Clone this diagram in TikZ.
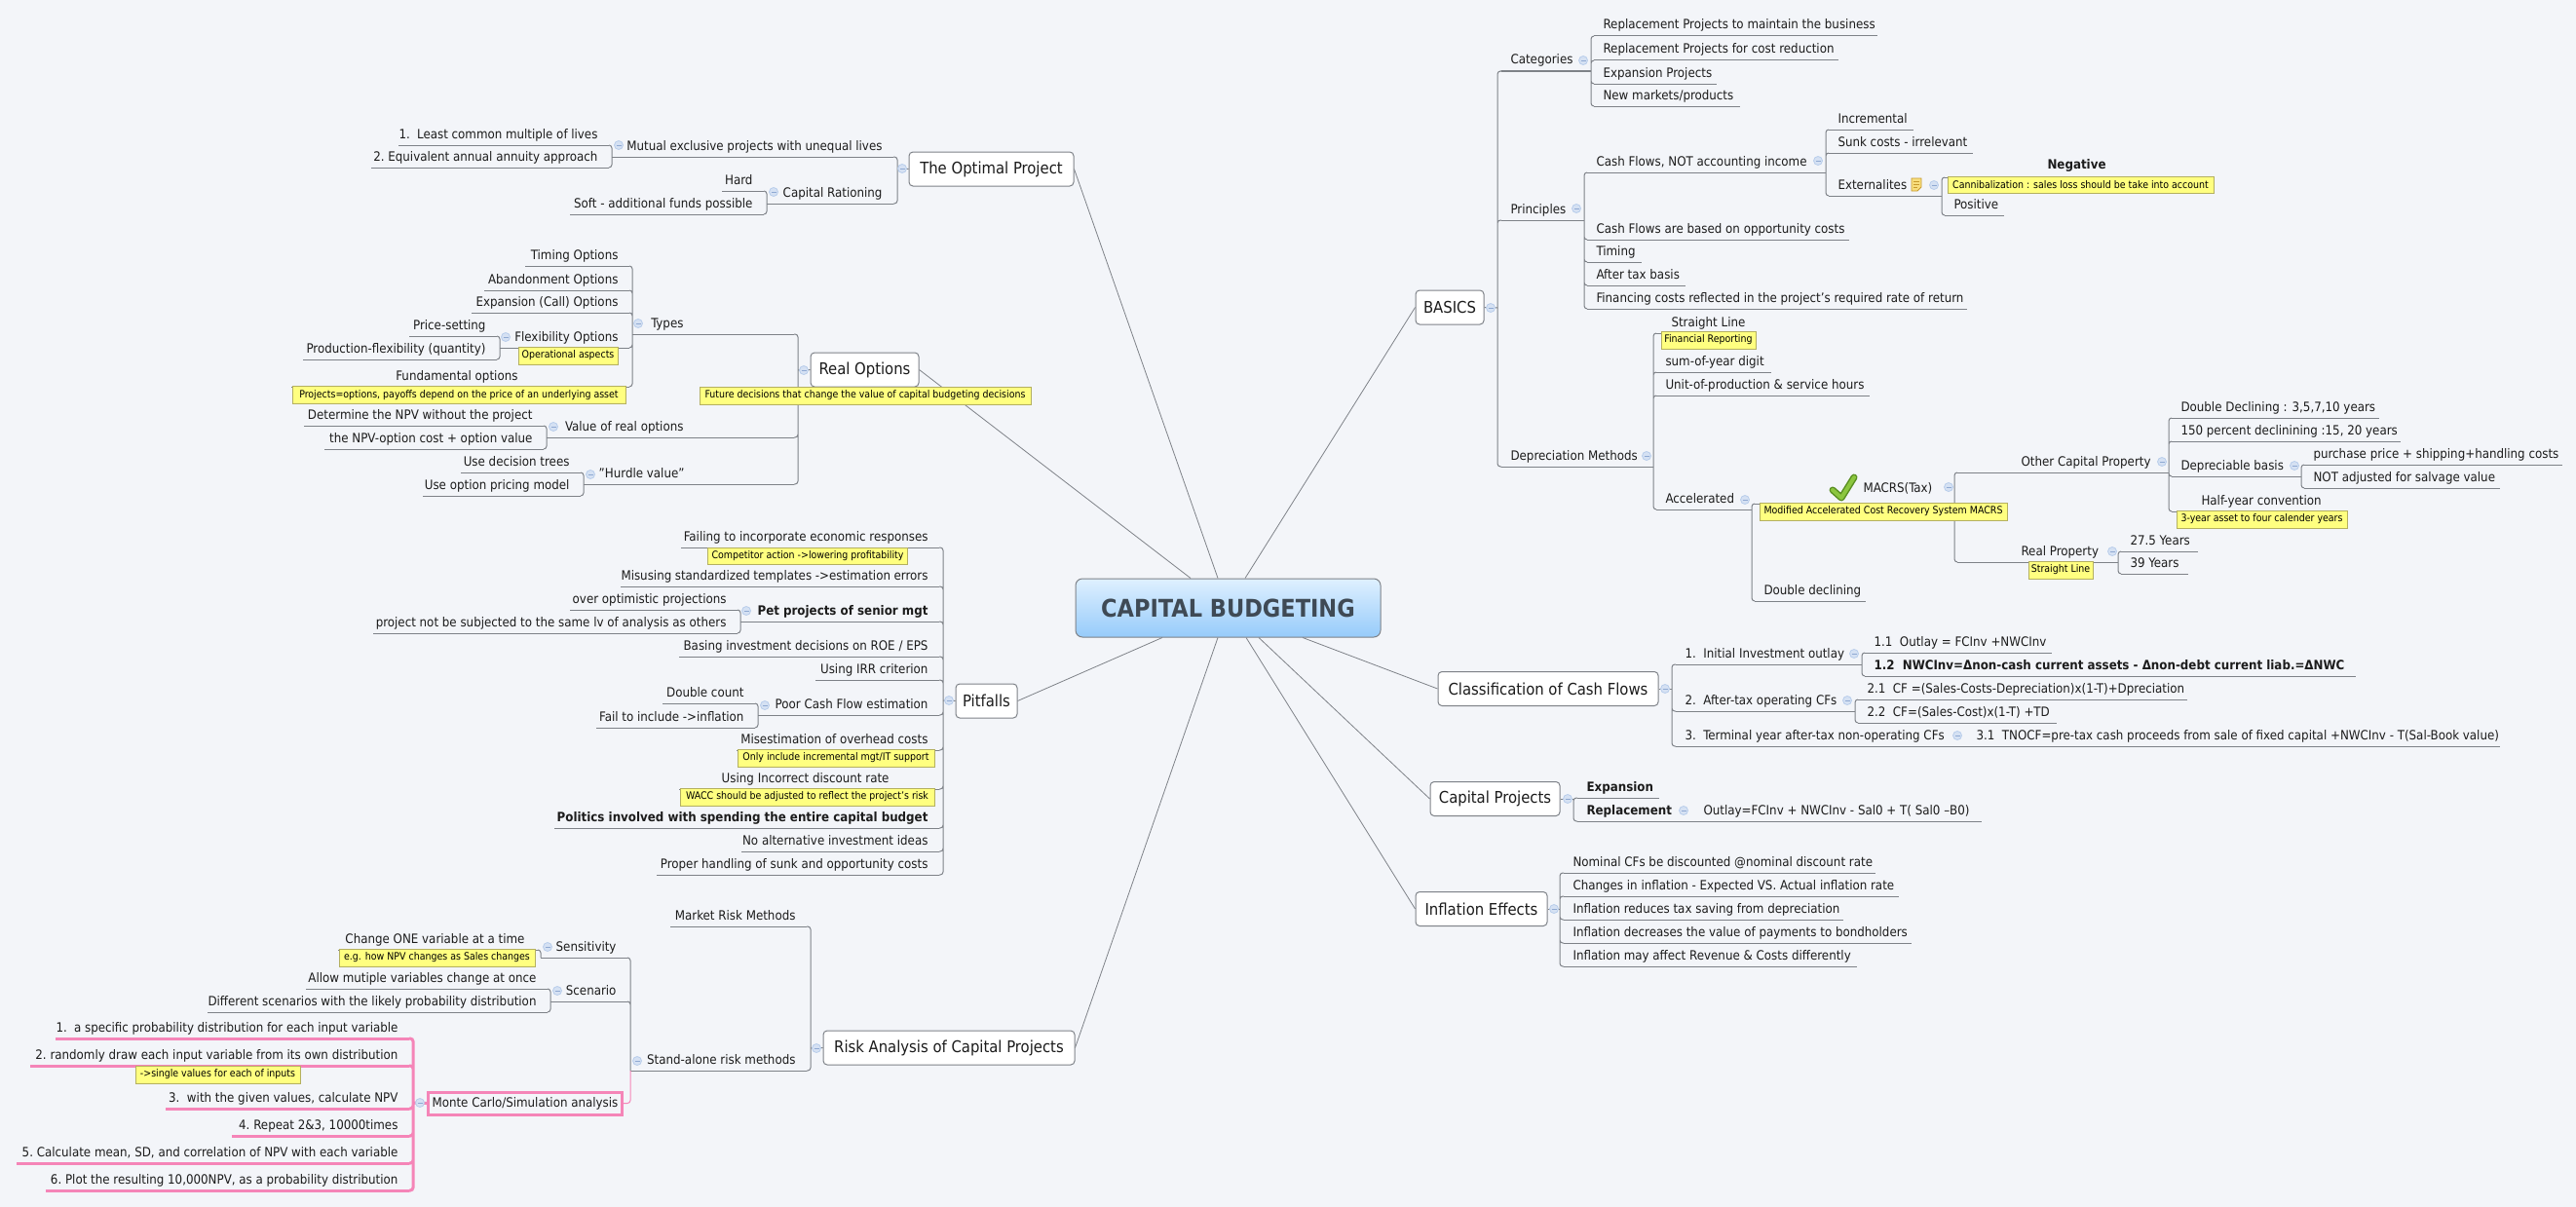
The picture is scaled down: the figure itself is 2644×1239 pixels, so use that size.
\documentclass[tikz,border=0pt]{standalone}
\usepackage{fontspec}
\setmainfont{DejaVu Sans Condensed}
\definecolor{bgc}{HTML}{F3F5F9}
\definecolor{linec}{HTML}{7E8288}
\definecolor{textc}{HTML}{1C1C1C}
\definecolor{notec}{HTML}{FFFF80}
\definecolor{noteb}{HTML}{B4B060}
\definecolor{foldc}{HTML}{D5E1F3}
\definecolor{foldb}{HTML}{B8CDEB}
\definecolor{foldm}{HTML}{8FA9D2}
\definecolor{pinkc}{HTML}{F585B8}
\definecolor{roottop}{HTML}{DFF0FF}
\definecolor{rootbot}{HTML}{96CBFA}
\definecolor{roottx}{HTML}{3F4A55}
\definecolor{checkd}{HTML}{5A8F22}
\definecolor{checkl}{HTML}{8CC63F}
\definecolor{iconb}{HTML}{C79A2E}
\definecolor{iconf}{HTML}{F8DE7E}
\newcommand{\tpfont}{\fontsize{13.2}{15}\selectfont}
\newcommand{\ntfont}{\fontsize{10.5}{12}\selectfont}
\tikzset{every picture/.style={line width=1pt}}
\tikzset{
	ulink/.style={draw=linec,line width=1pt},
	link/.style={draw=linec,line width=1pt,rounded corners=3pt},
	branch/.style={draw=linec,line width=0.8pt},
	topic/.style={inner sep=0pt,text=textc,font=\tpfont,text height=10pt,text depth=6.5pt,
		append after command={(\tikzlastnode.south west) edge[ulink] (\tikzlastnode.south east)}},
	rtopic/.style={topic,anchor=south west,
		execute at begin node={\hbox to #1pt\bgroup\hspace*{9pt}},execute at end node={\hfil\egroup}},
	ltopic/.style={topic,anchor=south east,
		execute at begin node={\hbox to #1pt\bgroup\hfil},execute at end node={\hspace*{11pt}\egroup}},
	mbox/.style={draw=linec,fill=white,rounded corners=4pt,line width=1pt,minimum height=35pt,inner sep=0pt,
		text=textc,font=\fontsize{16.5}{18}\selectfont},
	note/.style={draw=noteb,fill=notec,line width=0.8pt,minimum height=18pt,inner sep=0pt,text=black,font=\ntfont},
	fold/.style={circle,draw=foldb,fill=foldc,line width=0.8pt,minimum size=9pt,inner sep=0pt,
		path picture={\draw[draw=foldm,line width=0.8pt] ([xshift=2pt]path picture bounding box.west)--([xshift=-2pt]path picture bounding box.east);}}
}
\begin{document}
\begin{tikzpicture}[x=1pt,y=-1pt]
	\fill[bgc] (0,0) rectangle (2644,1239);
	\useasboundingbox (0,0) rectangle (2644,1239);
	% main topics
	\node[draw=linec,rounded corners=7pt,top color=roottop,bottom color=rootbot,minimum width=313pt,minimum height=60pt,inner sep=0pt,
		text=roottx,font=\fontsize{25}{28}\selectfont\bfseries] (root) at (1260.5,624) {CAPITAL BUDGETING};
	\node[mbox,minimum width=169pt] (opt) at (1017.5,173.5) {The Optimal Project};
	\node[mbox,minimum width=111pt] (real) at (887.5,379.5) {Real Options};
	\node[mbox,minimum width=63pt] (pit) at (1012.5,719.5) {Pitfalls};
	\node[mbox,minimum width=258pt] (risk) at (974,1075.5) {Risk Analysis of Capital Projects};
	\node[mbox,minimum width=70pt] (bas) at (1488,315.5) {BASICS};
	\node[mbox,minimum width=226pt] (cls) at (1589,707) {Classification of Cash Flows};
	\node[mbox,minimum width=133pt] (cap) at (1534.5,820) {Capital Projects};
	\node[mbox,minimum width=135pt] (inf) at (1520.5,933) {Inflation Effects};
	\draw[branch] ([xshift=-10.5pt]root.north)--(opt.east);
	\draw[branch] ([xshift=-38.5pt]root.north)--(real.east);
	\draw[branch] ([xshift=17.5pt]root.north)--(bas.west);
	\draw[branch] ([xshift=-67.5pt]root.south)--(pit.east);
	\draw[branch] ([xshift=-10.5pt]root.south)--(risk.east);
	\draw[branch] ([xshift=76.5pt]root.south)--(cls.west);
	\draw[branch] ([xshift=31.5pt]root.south)--(cap.west);
	\draw[branch] ([xshift=18.5pt]root.south)--(inf.west);

	% The Optimal Project
	\coordinate (ospine) at (921,173);
	\node[ltopic=288] (mut) at (917,161) {Mutual exclusive projects with unequal lives};
	\node[ltopic=215] (mut1) at (625,149) {1.\ \ Least common multiple of lives};
	\node[ltopic=243] (mut2) at (625,172) {2.\ Equivalent annual annuity approach};
	\node[ltopic=129] (rat) at (917,209) {Capital Rationing};
	\node[ltopic=42] (rat1) at (784,196) {Hard};
	\node[ltopic=198] (rat2) at (784,220) {Soft - additional funds possible};
	\draw[link] (opt.west)--(ospine);
	\draw[link] (ospine) |- (mut.south east) (ospine) |- (rat.south east);
	\draw[link] (mut.south west) |- (mut1.south east) (mut.south west) |- (mut2.south east);
	\draw[link] (rat.south west) |- (rat1.south east) (rat.south west) |- (rat2.south east);
	\node[fold] (fopt) at (926,173) {};
	\node[fold] (fmut) at (635,149) {};
	\node[fold] (frat) at (794,197) {};

	% Real Options
	\coordinate (rspine) at (819,380);
	\node[ltopic=165] (typ) at (815,343) {Types\hspace*{102pt}};
	\node[ltopic=106] (typ1) at (646,273) {Timing Options};
	\node[ltopic=148] (typ2) at (646,298) {Abandonment Options};
	\node[ltopic=161] (typ3) at (646,321) {Expansion (Call) Options};
	\node[ltopic=132] (flx) at (646,357) {Flexibility Options};
	\node[ltopic=89] (flx1) at (510,345) {Price-setting};
	\node[ltopic=198] (flx2) at (510,369) {Production-flexibility (quantity)};
	\node[ltopic=346] (fnd) at (646,397) {Fundamental options\hspace*{103pt}};
	\node[ltopic=253] (val) at (815,449) {Value of real options\hspace*{102pt}};
	\node[ltopic=245] (val1) at (558,437) {Determine the NPV without the project};
	\node[ltopic=224] (val2) at (558,461) {the NPV-option cost + option value};
	\node[ltopic=215] (hur) at (815,497) {"Hurdle value"\hspace*{101pt}};
	\node[ltopic=122] (hur1) at (596,485) {Use decision trees};
	\node[ltopic=161] (hur2) at (596,509) {Use option pricing model};
	\draw[link] (real.west)--(rspine);
	\draw[link] (rspine) |- (typ.south east) (rspine) |- (val.south east) (rspine) |- (hur.south east);
	\draw[link] (typ.south west) |- (typ1.south east) (typ.south west) |- (typ2.south east) (typ.south west) |- (typ3.south east)
		(typ.south west) |- (flx.south east) (typ.south west) |- (fnd.south east);
	\draw[link] (flx.south west) |- (flx1.south east) (flx.south west) |- (flx2.south east);
	\draw[link] (val.south west) |- (val1.south east) (val.south west) |- (val2.south east);
	\draw[link] (hur.south west) |- (hur1.south east) (hur.south west) |- (hur2.south east);
	\node[note,minimum width=102pt] (nflx) at (583,365) {Operational aspects};
	\node[note,minimum width=342pt] (nfnd) at (471,405.5) {Projects=options, payoffs depend on the price of an underlying asset};
	\node[note,minimum width=340pt] (nreal) at (888,406) {Future decisions that change the value of capital budgeting decisions};
	\node[fold] (freal) at (825,380) {};
	\node[fold] (ftyp) at (655,332) {};
	\node[fold] (fflx) at (519,346) {};
	\node[fold] (fval) at (568,438) {};
	\node[fold] (fhur) at (606,487) {};

	% Pitfalls
	\coordinate (pspine) at (968,719);
	\node[ltopic=264] (pf1) at (964,562) {Failing to incorporate economic responses};
	\node[ltopic=326] (pf2) at (964,602) {Misusing standardized templates ->estimation errors};
	\node[ltopic=203] (pet) at (964,638) {\bfseries Pet projects of senior mgt};
	\node[ltopic=171] (pet1) at (757,626) {over optimistic projections};
	\node[ltopic=373] (pet2) at (757,650) {project not be subjected to the same lv of analysis as others};
	\node[ltopic=266] (pf4) at (964,674) {Basing investment decisions on ROE / EPS};
	\node[ltopic=126] (pf5) at (964,698) {Using IRR criterion};
	\node[ltopic=185] (poor) at (964,734) {Poor Cash Flow estimation};
	\node[ltopic=94] (poor1) at (775,722) {Double count};
	\node[ltopic=162] (poor2) at (775,747) {Fail to include ->inflation};
	\node[ltopic=207] (pf7) at (964,770) {Misestimation of overhead costs};
	\node[ltopic=266] (pf8) at (964,810) {Using Incorrect discount rate\hspace*{40pt}};
	\node[ltopic=394] (pf9) at (964,850) {\bfseries Politics involved with spending the entire capital budget};
	\node[ltopic=202] (pf10) at (964,874) {No alternative investment ideas};
	\node[ltopic=289] (pf11) at (964,898) {Proper handling of sunk and opportunity costs};
	\draw[link] (pit.west)--(pspine);
	\draw[link] (pspine) |- (pf1.south east) (pspine) |- (pf2.south east) (pspine) |- (pet.south east) (pspine) |- (pf4.south east)
		(pspine) |- (pf5.south east) (pspine) |- (poor.south east) (pspine) |- (pf7.south east) (pspine) |- (pf8.south east)
		(pspine) |- (pf9.south east) (pspine) |- (pf10.south east) (pspine) |- (pf11.south east);
	\draw[link] (pet.south west) |- (pet1.south east) (pet.south west) |- (pet2.south east);
	\draw[link] (poor.south west) |- (poor1.south east) (poor.south west) |- (poor2.south east);
	\node[note,minimum width=205pt,minimum height=17pt] (npf1) at (829,570.5) {Competitor action ->lowering profitability};
	\node[note,minimum width=202pt] (npf7) at (858,778) {Only include incremental mgt/IT support};
	\node[note,minimum width=261pt] (npf8) at (828.5,818) {WACC should be adjusted to reflect the project's risk};
	\node[fold] (fpit) at (974,719) {};
	\node[fold] (fpet) at (766,627) {};
	\node[fold] (fpoor) at (785,724) {};

	% Risk Analysis of Capital Projects
	\coordinate (kspine) at (832,1076);
	\node[ltopic=139] (mkt) at (828,951) {Market Risk Methods};
	\node[ltopic=180] (sta) at (828,1099) {Stand-alone risk methods};
	\node[ltopic=88] (sen) at (644,983) {Sensitivity};
	\node[ltopic=204] (sen1) at (552,975) {Change ONE variable at a time\hspace*{2pt}};
	\node[ltopic=78] (sce) at (644,1028) {Scenario};
	\node[ltopic=247] (sce1) at (562,1015) {Allow mutiple variables change at once};
	\node[ltopic=348] (sce2) at (562,1039) {Different scenarios with the likely probability distribution};
	\node[draw=pinkc,line width=3pt,minimum width=199pt,minimum height=23pt,inner sep=0pt,text=textc,font=\tpfont] (mc) at (539,1132.5) {Monte Carlo/Simulation analysis};
	\coordinate (mspine) at (424,1132);
	\begin{scope}[ulink/.style={draw=pinkc,line width=3pt}]
		\node[ltopic=362] (mc1) at (420,1066) {1.\ \ a specific probability distribution for each input variable};
		\node[ltopic=388] (mc2) at (420,1094) {2.\ randomly draw each input variable from its own distribution};
		\node[ltopic=249] (mc3) at (420,1138) {3.\ \ with the given values, calculate NPV};
		\node[ltopic=181] (mc4) at (420,1166) {4.\ Repeat 2\&3, 10000times};
		\node[ltopic=402] (mc5) at (420,1194) {5.\ Calculate mean, SD, and correlation of NPV with each variable};
		\node[ltopic=372] (mc6) at (420,1222) {6.\ Plot the resulting 10,000NPV, as a probability distribution};
	\end{scope}
	\draw[link] (risk.west)--(kspine);
	\draw[link] (kspine) |- (mkt.south east) (kspine) |- (sta.south east);
	\draw[link] (sta.south west) |- (sen.south east) (sta.south west) |- (sce.south east);
	\draw[link] (sen.south west) |- (sen1.south east);
	\draw[link] (sce.south west) |- (sce1.south east) (sce.south west) |- (sce2.south east);
	\draw[link,draw=pinkc] (sta.south west) |- (mc.east);
	\draw[link,draw=pinkc,line width=3pt] (mc.west)--(mspine);
	\draw[link,draw=pinkc,line width=3pt] (mspine) |- (mc1.south east) (mspine) |- (mc2.south east) (mspine) |- (mc3.south east)
		(mspine) |- (mc4.south east) (mspine) |- (mc5.south east) (mspine) |- (mc6.south east);
	\node[note,minimum width=201pt] (nsen) at (448.5,983) {e.g. how NPV changes as Sales changes};
	\node[note,minimum width=169pt] (nmc) at (223.5,1103) {->single values for each of inputs};
	\node[fold] (frisk) at (838,1076) {};
	\node[fold] (fsta) at (654,1089) {};
	\node[fold] (fsen) at (562,972) {};
	\node[fold] (fsce) at (572,1017) {};
	\node[fold] (fmc) at (431,1132) {};

	% BASICS
	\coordinate (bspine) at (1537,316);
	\node[rtopic=91] (catg) at (1541,73) {Categories};
	\node[rtopic=290] (catg1) at (1636,37) {Replacement Projects to maintain the business};
	\node[rtopic=250] (catg2) at (1636,62) {Replacement Projects for cost reduction};
	\node[rtopic=125] (catg3) at (1636,86) {Expansion Projects};
	\node[rtopic=149] (catg4) at (1636,109) {New markets/products};
	\node[rtopic=84] (prin) at (1541,226) {Principles};
	\node[rtopic=244] (prin1) at (1629,177) {Cash Flows, NOT accounting income};
	\node[rtopic=86] (flow1) at (1877,133) {Incremental};
	\node[rtopic=147] (flow2) at (1877,157) {Sunk costs - irrelevant};
	\node[rtopic=115] (flow3) at (1877,201) {Externalites};
	\node[rtopic=276,text depth=8pt] (neg) at (1996,182) {\hspace*{96pt}\bfseries Negative};
	\node[rtopic=60] (pos) at (1996,221) {Positive};
	\node[rtopic=268] (prin2) at (1629,246) {Cash Flows are based on opportunity costs};
	\node[rtopic=55] (prin3) at (1629,269) {Timing};
	\node[rtopic=100] (prin4) at (1629,293) {After tax basis};
	\node[rtopic=389] (prin5) at (1629,317) {Financing costs reflected in the project's required rate of return};
	\node[rtopic=155] (depr) at (1541,479) {Depreciation Methods};
	\node[rtopic=102] (depr1) at (1700,342) {\hspace*{6pt}Straight Line};
	\node[rtopic=117] (depr2) at (1700,382) {sum-of-year digit};
	\node[rtopic=218] (depr3) at (1700,406) {Unit-of-production \& service hours};
	\node[rtopic=97] (acc) at (1700,523) {Accelerated};
	\node[rtopic=204,text depth=11pt] (macrs) at (1801,517) {\hspace*{102pt}MACRS(Tax)};
	\node[rtopic=216] (oth) at (2009,485) {\hspace*{56pt}Other Capital Property};
	\node[rtopic=212] (oth1) at (2229,429) {Double Declining : 3,5,7,10 years};
	\node[rtopic=234] (oth2) at (2229,453) {150 percent declinining :15, 20 years};
	\node[rtopic=132] (oth3) at (2229,489) {Depreciable basis};
	\node[rtopic=264] (bas1) at (2365,477) {purchase price + shipping+handling costs};
	\node[rtopic=200] (bas2) at (2365,501) {NOT adjusted for salvage value};
	\node[rtopic=180] (oth4) at (2229,525) {\hspace*{21pt}Half-year convention};
	\node[rtopic=164] (rea) at (2009,577) {\hspace*{56pt}Real Property};
	\node[rtopic=78] (rea1) at (2177,566) {27.5 Years};
	\node[rtopic=68] (rea2) at (2177,589) {39 Years};
	\node[rtopic=113] (acc2) at (1801,617) {Double declining};
	\draw[link] (bas.east)--(bspine);
	\draw[link] (bspine) |- (catg.south west) (bspine) |- (prin.south west) (bspine) |- (depr.south west);
	\draw[link] (catg.south east) |- (catg1.south west) (catg.south east) |- (catg2.south west) (catg.south east) |- (catg3.south west) (catg.south east) |- (catg4.south west);
	\draw[link] (prin.south east) |- (prin1.south west) (prin.south east) |- (prin2.south west) (prin.south east) |- (prin3.south west)
		(prin.south east) |- (prin4.south west) (prin.south east) |- (prin5.south west);
	\draw[link] (prin1.south east) |- (flow1.south west) (prin1.south east) |- (flow2.south west) (prin1.south east) |- (flow3.south west);
	\draw[link] (flow3.south east) |- (neg.south west) (flow3.south east) |- (pos.south west);
	\draw[link] (depr.south east) |- (depr1.south west) (depr.south east) |- (depr2.south west) (depr.south east) |- (depr3.south west) (depr.south east) |- (acc.south west);
	\draw[link] (acc.south east) |- (macrs.south west) (acc.south east) |- (acc2.south west);
	\draw[link] (macrs.south east) |- (oth.south west) (macrs.south east) |- (rea.south west);
	\draw[link] (oth.south east) |- (oth1.south west) (oth.south east) |- (oth2.south west) (oth.south east) |- (oth3.south west) (oth.south east) |- (oth4.south west);
	\draw[link] (oth3.south east) |- (bas1.south west) (oth3.south east) |- (bas2.south west);
	\draw[link] (rea.south east) |- (rea1.south west) (rea.south east) |- (rea2.south west);
	\node[note,minimum width=273pt,minimum height=17pt] (nneg) at (2135.5,189.5) {Cannibalization : sales loss should be take into account};
	\node[note,minimum width=97pt] (ndep) at (1753.5,349) {Financial Reporting};
	\node[note,minimum width=254pt] (nmac) at (1933,525) {Modified Accelerated Cost Recovery System MACRS};
	\node[note,minimum width=175pt] (noth) at (2321.5,533) {3-year asset to four calender years};
	\node[note,minimum width=66pt] (nrea) at (2115,585) {Straight Line};
	% note icon and check mark
	\draw[draw=iconb,fill=iconf,line width=0.8pt] (1962,183)--(1972,183)--(1972,192)--(1968,196)--(1962,196)--cycle;
	\draw[iconb,line width=0.8pt] (1964,186)--(1970,186) (1964,189)--(1970,189) (1964,192)--(1968,192);
	\draw[draw=checkd,line width=7pt,line join=round,line cap=round] (1881,503)--(1890,511)--(1903,490);
	\draw[draw=checkl,line width=4pt,line join=round,line cap=round] (1881,503)--(1890,511)--(1903,490);
	\node[fold] (fbas) at (1530,316) {};
	\node[fold] (fcatg) at (1625,62) {};
	\node[fold] (fprin) at (1618,214) {};
	\node[fold] (fprin1) at (1866,165) {};
	\node[fold] (fflow3) at (1985,190) {};
	\node[fold] (fdepr) at (1690,468) {};
	\node[fold] (facc) at (1791,513) {};
	\node[fold] (fmacrs) at (2000,500) {};
	\node[fold] (foth) at (2219,474) {};
	\node[fold] (foth3) at (2355,478) {};
	\node[fold] (frea) at (2168,566) {};

	% Classification of Cash Flows
	\coordinate (lspine) at (1716,707);
	\node[rtopic=190] (cl1) at (1720,682) {1.\ \ Initial Investment outlay};
	\node[rtopic=191] (cl11) at (1914,670) {1.1\ \ Outlay = FCInv +NWCInv};
	\node[rtopic=503] (cl12) at (1914,694) {\bfseries 1.2\ \ NWCInv=Δnon-cash current assets - Δnon-debt current liab.=ΔNWC};
	\node[rtopic=183] (cl2) at (1720,730) {2.\ \ After-tax operating CFs};
	\node[rtopic=337] (cl21) at (1907,718) {2.1\ \ CF =(Sales-Costs-Depreciation)x(1-T)+Dpreciation};
	\node[rtopic=203] (cl22) at (1907,742) {2.2\ \ CF=(Sales-Cost)x(1-T) +TD};
	\node[rtopic=295] (cl3) at (1720,766) {3.\ \ Terminal year after-tax non-operating CFs};
	\node[rtopic=550] (cl31) at (2015,766) {\hspace*{4pt}3.1\ \ TNOCF=pre-tax cash proceeds from sale of fixed capital +NWCInv - T(Sal-Book value)};
	\draw[link] (cls.east)--(lspine);
	\draw[link] (lspine) |- (cl1.south west) (lspine) |- (cl2.south west) (lspine) |- (cl3.south west);
	\draw[link] (cl1.south east) |- (cl11.south west) (cl1.south east) |- (cl12.south west);
	\draw[link] (cl2.south east) |- (cl21.south west) (cl2.south east) |- (cl22.south west);
	\draw[link] (cl3.south east)--(cl31.south west);
	\node[fold] (fcls) at (1709,707) {};
	\node[fold] (fcl1) at (1903,671) {};
	\node[fold] (fcl2) at (1896,719) {};
	\node[fold] (fcl3) at (2009,755) {};

	% Capital Projects
	\coordinate (aspine) at (1615,820);
	\node[rtopic=83] (exp) at (1619,819) {\bfseries Expansion};
	\node[rtopic=120] (rep) at (1619,843) {\bfseries Replacement};
	\node[rtopic=294] (rep1) at (1739,843) {Outlay=FCInv + NWCInv - Sal0 + T( Sal0 –B0)};
	\draw[link] (cap.east)--(aspine);
	\draw[link] (aspine) |- (exp.south west) (aspine) |- (rep.south west);
	\draw[link] (rep.south east)--(rep1.south west);
	\node[fold] (fcap) at (1609,820) {};
	\node[fold] (frep) at (1728,832) {};

	% Inflation Effects
	\coordinate (fspine) at (1601,933);
	\node[rtopic=319] (inf1) at (1605,896) {Nominal CFs be discounted @nominal discount rate};
	\node[rtopic=343] (inf2) at (1605,920) {Changes in inflation - Expected VS. Actual inflation rate};
	\node[rtopic=286] (inf3) at (1605,944) {Inflation reduces tax saving from depreciation};
	\node[rtopic=356] (inf4) at (1605,968) {Inflation decreases the value of payments to bondholders};
	\node[rtopic=300] (inf5) at (1605,992) {Inflation may affect Revenue \& Costs differently};
	\draw[link] (inf.east)--(fspine);
	\draw[link] (fspine) |- (inf1.south west) (fspine) |- (inf2.south west) (fspine) |- (inf3.south west) (fspine) |- (inf4.south west) (fspine) |- (inf5.south west);
	\node[fold] (finf) at (1595,933) {};
\end{tikzpicture}
\end{document}
